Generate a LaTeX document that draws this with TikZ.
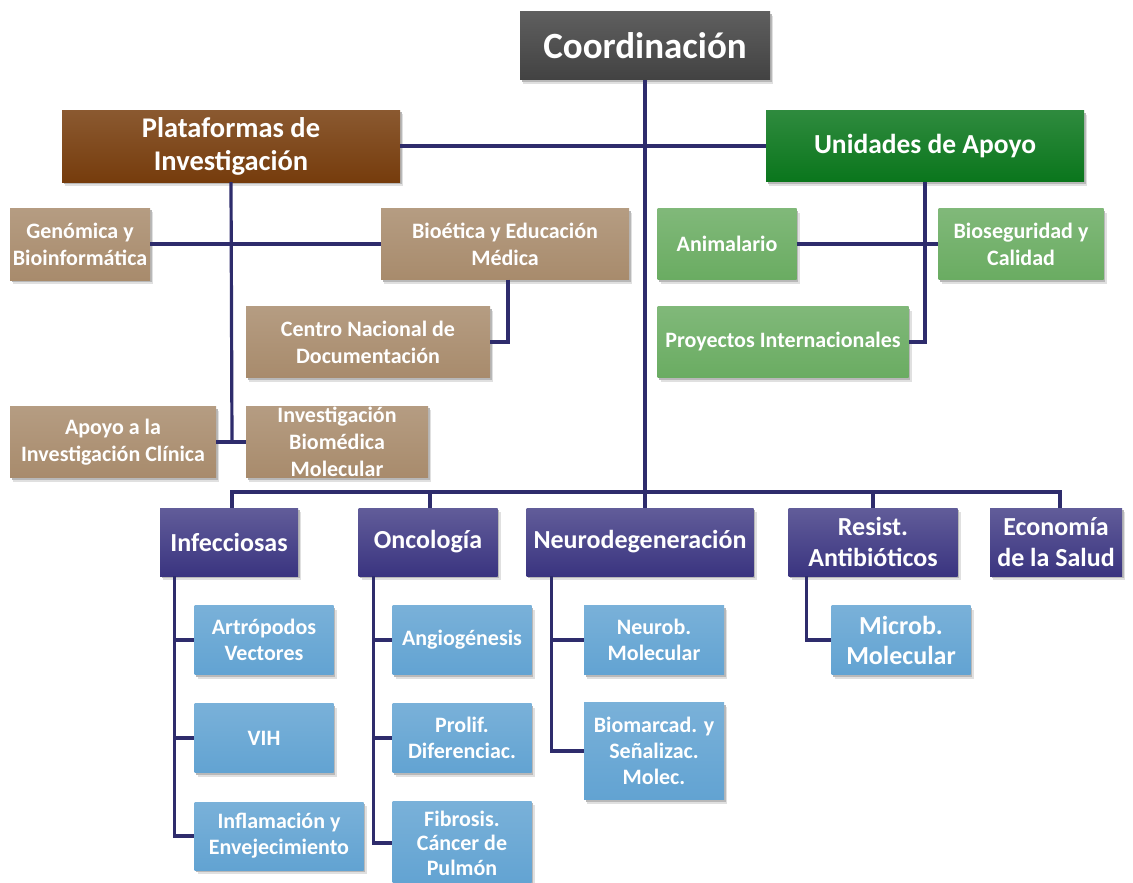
\documentclass[tikz,border=0pt]{standalone}
\usepackage{fontspec}
\setmainfont{Carlito}
\usetikzlibrary{shadows}
\definecolor{cCoord}{RGB}{66,66,66}
\definecolor{cPlat}{RGB}{118,60,12}
\definecolor{cUnid}{RGB}{10,118,28}
\definecolor{cTan}{RGB}{168,139,108}
\definecolor{cLGreen}{RGB}{106,172,98}
\definecolor{cNavy}{RGB}{58,52,128}
\definecolor{cLBlue}{RGB}{98,163,210}
\definecolor{cLine}{RGB}{46,44,108}
\tikzset{
  box/.style={rectangle, inner sep=1pt, align=center, text=white,
    general shadow={shadow xshift=3pt, shadow yshift=-4pt, fill=black!12},
    general shadow={shadow xshift=1.5pt, shadow yshift=-2pt, fill=black!28}},
  coordbox/.style={box, top color=cCoord!85!white, bottom color=cCoord, font=\fontsize{37}{40}\selectfont\bfseries},
  platbox/.style={box, top color=cPlat!85!white, bottom color=cPlat, font=\fontsize{28.5}{33}\selectfont\bfseries},
  unidbox/.style={box, top color=cUnid!85!white, bottom color=cUnid, font=\fontsize{27.5}{32}\selectfont\bfseries},
  tanbox/.style={box, top color=cTan!85!white, bottom color=cTan, font=\fontsize{22}{27}\selectfont\bfseries},
  grnbox/.style={box, top color=cLGreen!85!white, bottom color=cLGreen, font=\fontsize{22}{27}\selectfont\bfseries},
  catbox/.style={box, top color=cNavy!80!white, bottom color=cNavy, font=\fontsize{26}{31}\selectfont\bfseries},
  subbox/.style={box, top color=cLBlue!85!white, bottom color=cLBlue, font=\fontsize{22}{26}\selectfont\bfseries},
  conn/.style={draw=cLine, line width=3.2pt, line join=miter},
}
\begin{document}
\begin{tikzpicture}[x=1pt,y=-1pt]
\useasboundingbox (0,0) rectangle (1133,883);
\fill[white] (0,0) rectangle (1133,883);

\coordinate (bus) at (645,492);
\coordinate (platend) at (232,442);

% nodes
\node[coordbox, minimum width=250pt, minimum height=68pt] (coord) at (645,46) {Coordinación};
\node[platbox, minimum width=338pt, minimum height=72pt] (plat) at (231,146) {Plataformas de\\Investigación};
\node[unidbox, minimum width=318pt, minimum height=71pt] (unid) at (925,146) {Unidades de Apoyo};

\node[tanbox, minimum width=140pt, minimum height=72pt] (gen) at (80,244) {Genómica y\\Bioinformática};
\node[tanbox, minimum width=248pt, minimum height=71pt] (bio) at (505,244) {Bioética y Educación\\Médica};
\node[tanbox, minimum width=244pt, minimum height=71pt] (cnd) at (368,342) {Centro Nacional de\\Documentación};
\node[tanbox, minimum width=206pt, minimum height=71pt] (apo) at (113,442) {Apoyo a la\\Investigación Clínica};
\node[tanbox, minimum width=182pt, minimum height=71pt] (ibm) at (337,442) {Investigación\\Biomédica\\Molecular};

\node[grnbox, minimum width=139pt, minimum height=71pt] (anim) at (727,244) {Animalario};
\node[grnbox, minimum width=165pt, minimum height=71pt] (bios) at (1021,244) {Bioseguridad y\\Calidad};
\node[grnbox, minimum width=251pt, minimum height=71pt] (proy) at (783,342) {Proyectos Internacionales};

\node[catbox, minimum width=138pt, minimum height=68pt] (inf) at (229,542) {Infecciosas};
\node[catbox, minimum width=139pt, minimum height=68pt] (onc) at (428,542) {Oncología};
\node[catbox, minimum width=227pt, minimum height=68pt] (neu) at (640,542) {Neurodegeneración};
\node[catbox, minimum width=169pt, minimum height=68pt] (res) at (873,542) {Resist.\\Antibióticos};
\node[catbox, minimum width=132pt, minimum height=68pt] (eco) at (1056,542) {Economía\\de la Salud};

\node[subbox, minimum width=139pt, minimum height=69pt] (art) at (264,640) {Artrópodos\\Vectores};
\node[subbox, minimum width=139pt, minimum height=69pt] (vih) at (264,738) {VIH};
\node[subbox, minimum width=169pt, minimum height=68pt] (infl) at (279,836) {Inflamación y\\Envejecimiento};
\node[subbox, minimum width=139pt, minimum height=69pt] (ang) at (462,640) {Angiogénesis};
\node[subbox, minimum width=139pt, minimum height=69pt] (pro) at (462,738) {Prolif.\\Diferenciac.};
\node[subbox, minimum width=139pt, minimum height=84pt, font=\fontsize{22}{24.5}\selectfont\bfseries] (fib) at (462,843) {Fibrosis.\\Cáncer de\\Pulmón};
\node[subbox, minimum width=140pt, minimum height=69pt] (nrb) at (654,640) {Neurob.\\Molecular};
\node[subbox, minimum width=140pt, minimum height=97pt] (bmk) at (654,751) {Biomarcad. y\\Señalizac.\\Molec.};
\node[subbox, minimum width=139pt, minimum height=69pt, font=\fontsize{26}{30}\selectfont\bfseries] (mic) at (901,640) {Microb.\\Molecular};

% connectors (from node borders, over shadows)
\path[conn] (coord.south) -- (bus);
\path[conn] (plat.east) -- (unid.west);
\path[conn] (plat.south) -- (platend);
\path[conn] (gen.east) -- (bio.west);
\path[conn] (apo.east) -- (ibm.west);
\path[conn] ([xshift=3pt]bio.south) |- (cnd.east);
\path[conn] (unid.south) |- (proy.east);
\path[conn] (anim.east) -- (bios.west);

\path[conn] ([xshift=3pt]inf.north) |- (bus) -| ([xshift=4pt]eco.north);
\path[conn] ([xshift=2pt]onc.north) -- ([xshift=2pt]onc.north |- bus);
\path[conn] ([xshift=5pt]neu.north) -- ([xshift=5pt]neu.north |- bus);
\path[conn] (res.north) -- (res.north |- bus);

\path[conn] ([xshift=15pt]inf.south west) |- (art.west);
\path[conn] ([xshift=15pt]inf.south west) |- (vih.west);
\path[conn] ([xshift=15pt]inf.south west) |- (infl.west);
\path[conn] ([xshift=15pt]onc.south west) |- (ang.west);
\path[conn] ([xshift=15pt]onc.south west) |- (pro.west);
\path[conn] ([xshift=15pt]onc.south west) |- (fib.west);
\path[conn] ([xshift=25pt]neu.south west) |- (nrb.west);
\path[conn] ([xshift=25pt]neu.south west) |- (bmk.west);
\path[conn] ([xshift=18pt]res.south west) |- (mic.west);
\end{tikzpicture}
\end{document}
